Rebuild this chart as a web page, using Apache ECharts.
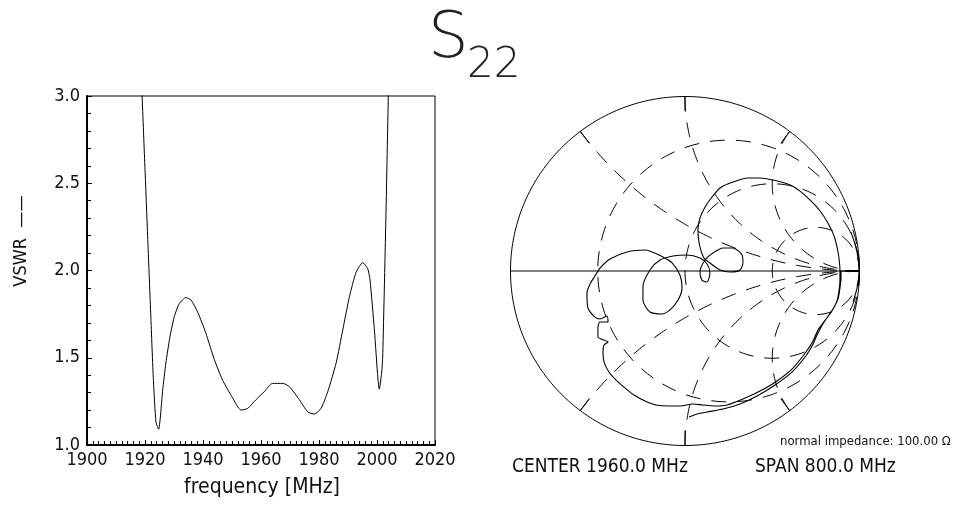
<!DOCTYPE html>
<html>
<head>
<meta charset="utf-8">
<script src="https://cdn.jsdelivr.net/npm/echarts@6/dist/echarts.min.js"></script>
<style>
html,body{margin:0;padding:0;background:#fff;}
#c{width:960px;height:506px;}
</style>
</head>
<body>
<div id="c"></div>
<script>
// ---- VSWR vs frequency (left plot) ----
const freq = [1918.2, 1919.0, 1920, 1921, 1922, 1922.9, 1923.8, 1924.7, 1926.1, 1927.2, 1928.6, 1930.1, 1931.8, 1934.1, 1935.9, 1938.2, 1941.0, 1943.9, 1946.8, 1950.2, 1953.1, 1955.4, 1958.3, 1961.1, 1964.0, 1967.5, 1969.8, 1973.2, 1976.1, 1978.4, 1980.7, 1983.0, 1985.9, 1988.2, 1990.5, 1992.8, 1995.1, 1996.8, 1997.6, 1999.1, 2000.8, 2001.7, 2002.0, 2003.1, 2003.9, 2004.4];
const vswr = [3.35, 3.0, 2.58, 2.16, 1.74, 1.37, 1.13, 1.09, 1.315, 1.47, 1.62, 1.735, 1.81, 1.845, 1.83, 1.76, 1.64, 1.49, 1.37, 1.27, 1.20, 1.21, 1.26, 1.305, 1.353, 1.353, 1.334, 1.26, 1.19, 1.177, 1.21, 1.305, 1.47, 1.66, 1.85, 1.99, 2.045, 2.01, 1.945, 1.66, 1.32, 1.43, 1.525, 2.33, 3.0, 3.4];

// ---- Smith chart trace: reflection coefficient (real, imag) ----
const gammaRe = [0.023,0.069,0.126,0.218,0.315,0.413,0.516,0.613,0.688,0.734,0.762,0.797,0.842,0.871,0.883,0.888,0.888,
 0.883,0.871,0.854,0.819,0.774,0.716,0.659,0.602,0.504,0.430,0.361,0.275,0.201,0.155,0.115,0.086,0.074,0.080,0.092,0.109,
 0.143,0.201,0.258,0.315,0.332,0.327,0.275,0.218,0.160,0.115,0.086,0.097,0.126,0.143,0.126,0.086,0.011,-0.069,-0.143,-0.201,
 -0.241,-0.241,-0.201,-0.132,-0.086,-0.040,-0.017,-0.029,-0.074,-0.126,-0.229,-0.332,-0.430,-0.487,-0.516,-0.544,-0.562,-0.556,
 -0.516,-0.487,-0.447,-0.441,-0.487,-0.499,-0.499,-0.441,-0.464,-0.470,-0.464,-0.436,-0.395,-0.344,-0.292,-0.229,-0.166,-0.097,
 -0.029,0.046,0.103,0.172,0.241,0.332,0.430,0.527,0.619,0.693,0.734,0.762,0.808,0.848,0.877,0.888,0.894,0.894,0.946,0.997,
 0.986,0.963,0.986,0.997,0.991,0.974,0.951];
const gammaIm = [-0.837,-0.819,-0.808,-0.791,-0.762,-0.716,-0.653,-0.579,-0.493,-0.418,-0.355,-0.292,-0.229,-0.172,-0.109,-0.052,0,
 0.069,0.138,0.201,0.275,0.344,0.407,0.458,0.493,0.521,0.533,0.533,0.510,0.476,0.424,0.367,0.304,0.235,0.166,0.115,0.074,
 0.046,0.006,-0.006,0.006,0.046,0.092,0.132,0.132,0.103,0.063,-0.006,-0.052,-0.063,-0.011,0.040,0.074,0.092,0.086,0.063,0.006,
 -0.092,-0.166,-0.235,-0.246,-0.223,-0.166,-0.097,-0.023,0.046,0.080,0.120,0.109,0.069,0.017,-0.029,-0.074,-0.126,-0.212,
 -0.264,-0.275,-0.258,-0.292,-0.292,-0.327,-0.378,-0.407,-0.424,-0.464,-0.521,-0.579,-0.625,-0.670,-0.711,-0.745,-0.768,-0.774,
 -0.774,-0.762,-0.768,-0.774,-0.768,-0.734,-0.688,-0.630,-0.556,-0.464,-0.401,-0.338,-0.275,-0.218,-0.160,-0.097,-0.040,0,0,-0.006,
 -0.097,-0.178,-0.097,0,0.080,0.155,0.223];

// Smith chart grid values
const resistanceCircles = [1/3, 1, 3];
const reactanceArcs = [0.5, 1, 2, -0.5, -1, -2];

// tick labels
const yTicks = [1.0, 1.5, 2.0, 2.5, 3.0];
const xTicks = [1900, 1920, 1940, 1960, 1980, 2000, 2020];

const FONT = "'DejaVu Sans Condensed', 'DejaVu Sans', sans-serif";
const INK = '#111';

function zToGamma(r, x) {
  const d = (r + 1) * (r + 1) + x * x;
  return [(r * r - 1 + x * x) / d, (2 * x) / d];
}

const series = [];
series.push({
  type: 'line', xAxisIndex: 0, yAxisIndex: 0,
  data: freq.map((f, i) => [f, vswr[i]]),
  showSymbol: false, symbol: 'none', smooth: 0.2,
  lineStyle: { color: '#000', width: 1 }, silent: true
});

const smithBase = { type: 'line', xAxisIndex: 1, yAxisIndex: 1, symbol: 'none', showSymbol: false, silent: true, clip: false };

// outer circle (|Gamma| = 1)
const outer = [];
for (let i = 0; i <= 360; i++) { const t = i * Math.PI / 180; outer.push([Math.cos(t), Math.sin(t)]); }
series.push(Object.assign({}, smithBase, { data: outer, lineStyle: { color: '#000', width: 1 } }));
// real axis
series.push(Object.assign({}, smithBase, { data: [[-1, 0], [1, 0]], lineStyle: { color: '#000', width: 1 } }));

// constant resistance circles
resistanceCircles.forEach(r => {
  const pts = [];
  for (let i = 0; i <= 400; i++) {
    const t = -Math.PI / 2 + Math.PI * i / 400;
    const x = Math.tan(Math.max(-1.5695, Math.min(1.5695, t)));
    pts.push(zToGamma(r, x));
  }
  pts.unshift([1, 0]); pts.push([1, 0]);
  series.push(Object.assign({}, smithBase, { data: pts, lineStyle: { color: '#000', width: 1, type: [15, 11] } }));
});

// constant reactance arcs + tick marks on the outer circle
reactanceArcs.forEach(x => {
  const pts = [];
  for (let i = 0; i <= 300; i++) {
    const t = Math.PI / 2 * i / 300;
    const r = Math.tan(Math.min(1.5695, t));
    pts.push(zToGamma(r, x));
  }
  pts.push([1, 0]);
  series.push(Object.assign({}, smithBase, { data: pts, lineStyle: { color: '#000', width: 1, type: [15, 11] } }));
  const g = zToGamma(0, x);
  series.push(Object.assign({}, smithBase, { data: [g, [g[0] * 0.915, g[1] * 0.915]], lineStyle: { color: '#000', width: 1 } }));
});

// measured trace
series.push(Object.assign({}, smithBase, {
  data: gammaRe.map((u, i) => [u, gammaIm[i]]),
  smooth: 0.25,
  lineStyle: { color: '#000', width: 1.1 }
}));

const chart = echarts.init(document.getElementById('c'), null, { renderer: 'canvas' });
chart.setOption({
  animation: false,
  backgroundColor: '#fff',
  grid: [
    { left: 87, top: 96, width: 348, height: 349, show: true, borderColor: '#000', borderWidth: 1, backgroundColor: 'transparent' },
    { left: 510.5, top: 96.5, width: 349, height: 349 }
  ],
  xAxis: [
    {
      type: 'value', gridIndex: 0, min: xTicks[0], max: xTicks[xTicks.length - 1], interval: 20,
      axisLine: { show: true, onZero: false, lineStyle: { color: '#000', width: 2 } },
      axisTick: { show: true, inside: true, length: 5, lineStyle: { color: '#000' } },
      minorTick: { show: true, splitNumber: 10, length: 4, lineStyle: { color: '#000' } },
      splitLine: { show: false },
      axisLabel: { color: INK, fontFamily: FONT, fontSize: 18, margin: 6, formatter: v => String(v) }
    },
    { type: 'value', gridIndex: 1, min: -1, max: 1, show: false }
  ],
  yAxis: [
    {
      type: 'value', gridIndex: 0, min: yTicks[0], max: yTicks[yTicks.length - 1], interval: 0.5,
      axisLine: { show: true, onZero: false, lineStyle: { color: '#000', width: 2 } },
      axisTick: { show: true, inside: true, length: 5, lineStyle: { color: '#000' } },
      minorTick: { show: true, splitNumber: 5, length: 4, lineStyle: { color: '#000' } },
      splitLine: { show: false },
      axisLabel: { color: INK, fontFamily: FONT, fontSize: 18, margin: 7, formatter: v => v.toFixed(1) }
    },
    { type: 'value', gridIndex: 1, min: -1, max: 1, show: false }
  ],
  series: series,
  graphic: [
    { type: 'text', x: 428, y: 40, style: { text: 'S', fontFamily: "'DejaVu Sans', sans-serif", fontWeight: 200, fontSize: 64, fill: '#222', textAlign: 'left', textVerticalAlign: 'middle' } },
    { type: 'text', x: 467, y: 66, style: { text: '22', fontFamily: "'DejaVu Sans', sans-serif", fontWeight: 200, fontSize: 42, fill: '#222', textAlign: 'left', textVerticalAlign: 'middle' } },
    { type: 'text', x: 21, y: 241, rotation: Math.PI / 2, style: { text: 'VSWR  ——', fontFamily: FONT, fontSize: 18, fill: INK, textAlign: 'center', textVerticalAlign: 'middle' } },
    { type: 'text', x: 262, y: 488, style: { text: 'frequency [MHz]', fontFamily: FONT, fontSize: 21, fill: INK, textAlign: 'center', textVerticalAlign: 'middle' } },
    { type: 'text', x: 780, y: 442, style: { text: 'normal impedance: 100.00 Ω', fontFamily: FONT, fontSize: 13, fill: INK, textAlign: 'left', textVerticalAlign: 'middle' } },
    { type: 'text', x: 512, y: 467, style: { text: 'CENTER 1960.0 MHz', fontFamily: FONT, fontSize: 19, fill: INK, textAlign: 'left', textVerticalAlign: 'middle' } },
    { type: 'text', x: 755, y: 467, style: { text: 'SPAN 800.0 MHz', fontFamily: FONT, fontSize: 19, fill: INK, textAlign: 'left', textVerticalAlign: 'middle' } }
  ]
});
</script>
</body>
</html>
